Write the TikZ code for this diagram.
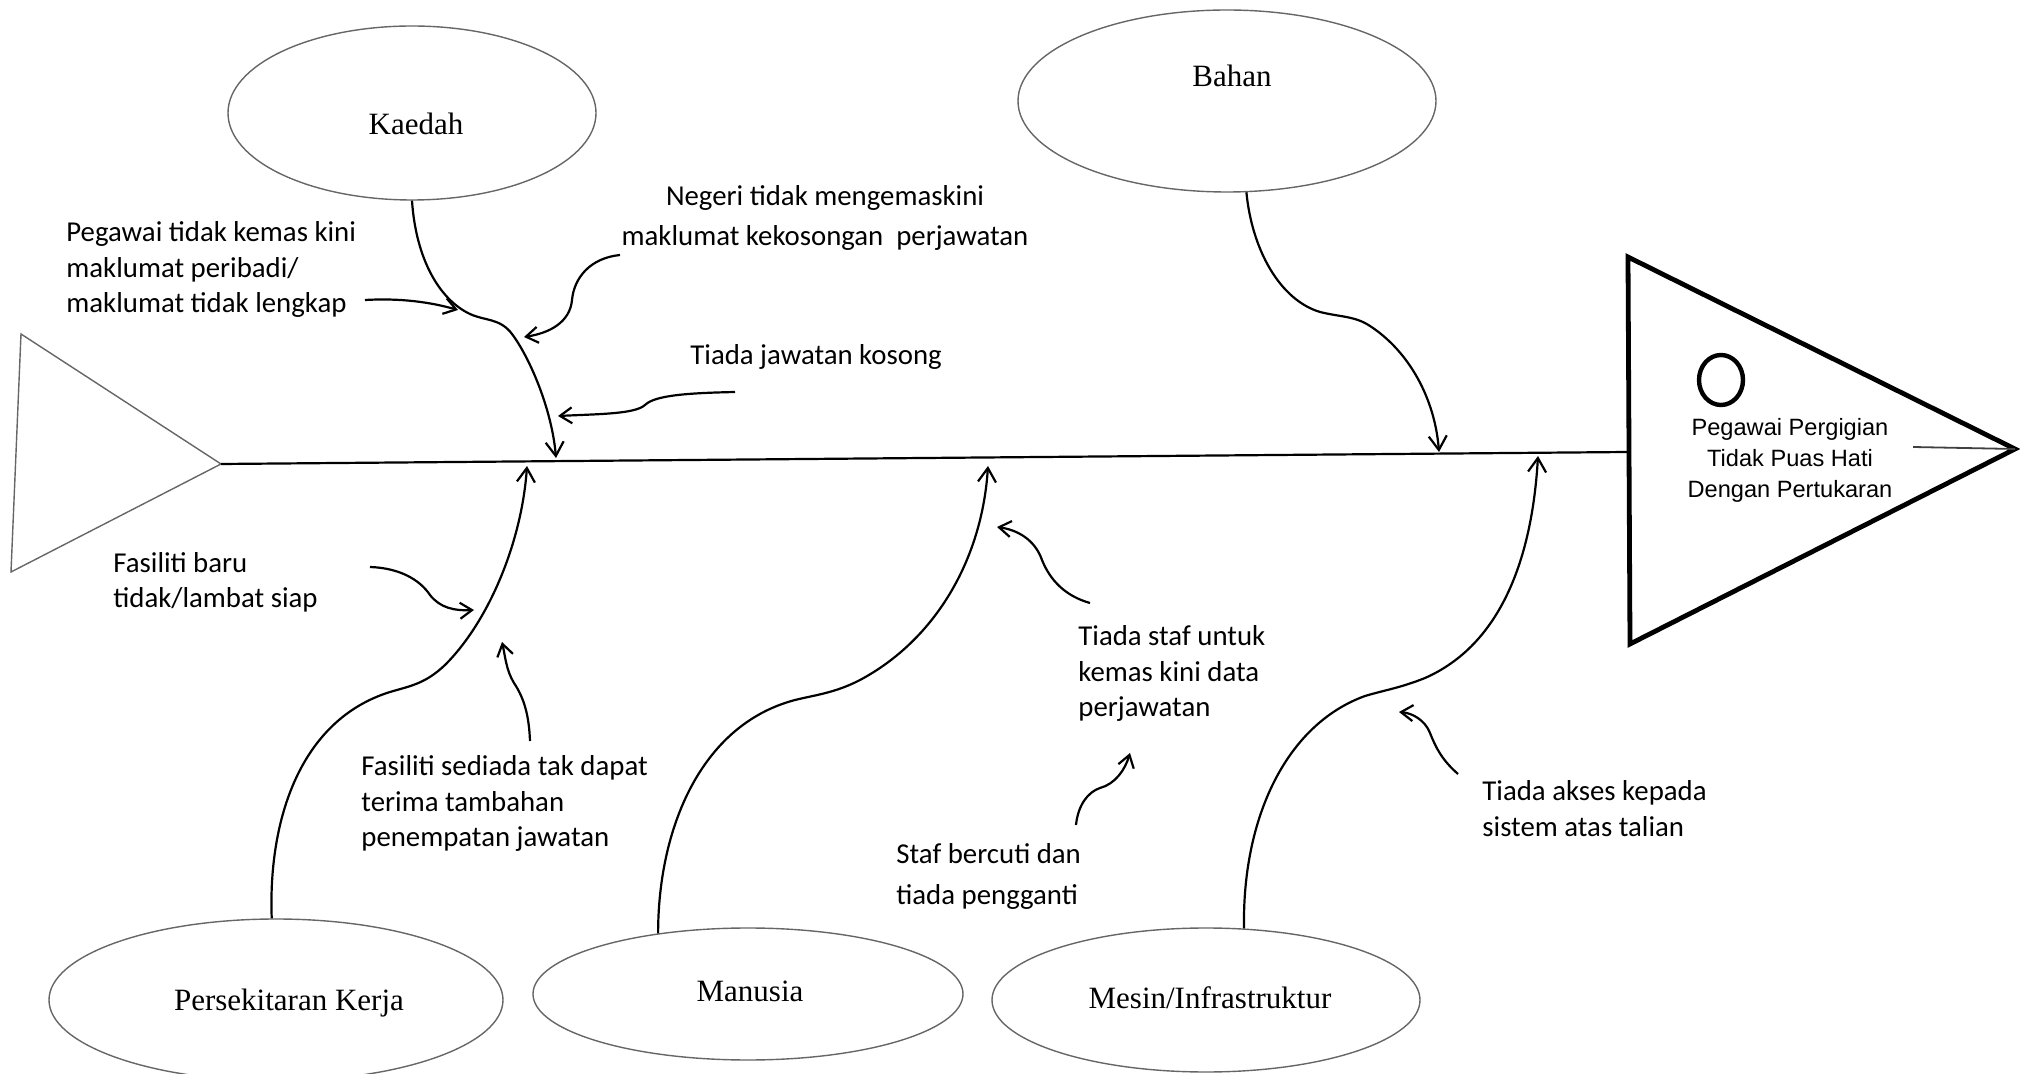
\documentclass[tikz,border=0pt]{standalone}
\usepackage{fontspec}
\setmainfont{Liberation Serif}
\newfontfamily\calib{Carlito}
\newfontfamily\arialf{Liberation Sans}
\usetikzlibrary{arrows.meta,shapes.geometric}
\begin{document}
\begin{tikzpicture}[x=0.5pt,y=-0.5pt,
  oval/.style={draw=black!60, line width=0.7pt, ellipse, inner sep=0pt},
  bone/.style={draw=black, line width=1.1pt, -{Straight Barb[length=7pt,width=9pt]}},
  cause/.style={draw=black, line width=1.1pt, -{Straight Barb[length=6pt,width=8pt]}},
  lbl/.style={font=\calib\fontsize{14.4}{17.8}\selectfont, align=left, anchor=base west, inner sep=0pt},
  cat/.style={font=\fontsize{15.5}{18}\selectfont, anchor=base, inner sep=0pt},
]
\useasboundingbox (0,0) rectangle (2020,1074);
\clip (0,0) rectangle (2020,1074);

% category ellipses
\node[oval, minimum width=184pt, minimum height=87pt] (kaedah) at (412,113) {};
\node[oval, minimum width=209pt, minimum height=91pt] (bahan) at (1227,101) {};
\node[oval, minimum width=227pt, minimum height=81pt] (persek) at (276,1000) {};
\node[oval, minimum width=215pt, minimum height=66pt] (manusia) at (748,994) {};
\node[oval, minimum width=214pt, minimum height=72pt] (mesin) at (1206,1000) {};

\node[cat] (tkaedah) at (416,135) {Kaedah};
\node[cat] (tbahan) at (1232,87) {Bahan};
\node[cat] (tpersek) at (289,1010) {Persekitaran Kerja};
\node[cat] (tmanusia) at (750,1001) {Manusia};
\node[cat] (tmesin) at (1210,1008) {Mesin/Infrastruktur};

% tail
\coordinate (tailtip) at (221,464);
\coordinate (tailtop) at (21,334);
\coordinate (tailbot) at (11,572);
\draw[black!60, line width=0.7pt] (tailtop) -- (tailtip) -- (tailbot) -- cycle;

% head
\coordinate (headbase) at (1628,452);
\coordinate (headtop) at (1628,257);
\coordinate (headtip) at (2015,449);
\coordinate (headbot) at (1630,644);
\coordinate (headline) at (1913,447);
\draw[line width=2.4pt, line join=miter] (headtop) -- (headtip) -- (headbot) -- cycle;
\draw[black!75, line width=0.9pt] (headline) -- (headtip);
\node[draw, ellipse, line width=2.2pt, minimum width=22pt, minimum height=25pt, inner sep=0pt] (circ) at (1721,380) {};
\node[font=\arialf\fontsize{11.8}{15.5}\selectfont, align=center, anchor=base, inner sep=0pt] (effect) at (1790,498) {Pegawai Pergigian\\Tidak Puas Hati\\Dengan Pertukaran};

% spine
\draw[line width=1.1pt] (tailtip) -- (headbase);

% bones
\coordinate (kT) at (556,458);
\coordinate (bT) at (1439,452);
\coordinate (pT) at (527,466);
\coordinate (mT) at (988,466);
\coordinate (iT) at (1538,456);
\draw[bone] (kaedah.south) .. controls (416,260) and (440,300) .. (470,314)
  .. controls (485,321) and (500,318) .. (512,334)
  .. controls (530,358) and (552,410) .. (kT);
\draw[bone] (bahan.-78) .. controls (1252,250) and (1280,300) .. (1320,312)
  .. controls (1340,317) and (1355,316) .. (1370,326)
  .. controls (1410,352) and (1435,400) .. (bT);
\draw[bone] (persek.93) .. controls (268,820) and (300,720) .. (390,692)
  .. controls (410,686) and (425,684) .. (445,665)
  .. controls (490,620) and (522,540) .. (pT);
\draw[bone] (manusia.146) .. controls (658,830) and (700,725) .. (795,700)
  .. controls (815,695) and (835,693) .. (860,680)
  .. controls (935,640) and (982,560) .. (mT);
\draw[bone] (mesin.62) .. controls (1242,820) and (1285,725) .. (1365,696)
  .. controls (1385,690) and (1400,688) .. (1425,678)
  .. controls (1500,645) and (1532,560) .. (iT);

% cause texts (anchor = baseline of last line)
\node[lbl] (t1) at (66,313) {Pegawai tidak kemas kini\\maklumat peribadi/\\maklumat tidak lengkap};
\node[lbl, align=center, anchor=base, font=\calib\fontsize{14.4}{20}\selectfont] (t2) at (825,246) {Negeri tidak mengemaskini\\maklumat kekosongan\ \ perjawatan};
\node[lbl] (t3) at (690,365) {Tiada jawatan kosong};
\node[lbl] (t4) at (113,608) {Fasiliti baru\\tidak/lambat siap};
\node[lbl] (t5) at (361,847) {Fasiliti sediada tak dapat\\terima tambahan\\penempatan jawatan};
\node[lbl, font=\calib\fontsize{14.4}{20.5}\selectfont] (t6) at (896,904) {Staf bercuti dan\\tiada pengganti};
\node[lbl] (t7) at (1078,717) {Tiada staf untuk\\kemas kini data\\perjawatan};
\node[lbl] (t8) at (1482,836) {Tiada akses kepada\\sistem atas talian};

% cause arrows
\coordinate (a1s) at (365,300); \coordinate (a1e) at (458,310);
\coordinate (a2s) at (620,255); \coordinate (a2e) at (524,337);
\coordinate (a3s) at (735,392); \coordinate (a3e) at (558,416);
\coordinate (a4s) at (370,567); \coordinate (a4e) at (474,610);
\coordinate (a5s) at (530,741); \coordinate (a5e) at (502,642);
\coordinate (a6s) at (1090,603); \coordinate (a6e) at (997,527);
\coordinate (a7s) at (1076,825); \coordinate (a7e) at (1130,753);
\coordinate (a8s) at (1458,774); \coordinate (a8e) at (1399,712);
\draw[cause] (a1s) .. controls (400,298) and (430,302) .. (a1e);
\draw[cause] (a2s) .. controls (590,258) and (574,278) .. (572,300) .. controls (570,322) and (550,333) .. (a2e);
\draw[cause] (a3s) .. controls (690,393) and (655,395) .. (645,405) .. controls (635,414) and (600,414) .. (a3e);
\draw[cause] (a4s) .. controls (400,568) and (420,580) .. (430,595) .. controls (440,608) and (455,611) .. (a4e);
\draw[cause] (a5s) .. controls (529,715) and (524,698) .. (514,683) .. controls (506,670) and (505,655) .. (a5e);
\draw[cause] (a6s) .. controls (1065,596) and (1050,580) .. (1042,560) .. controls (1035,540) and (1018,530) .. (a6e);
\draw[cause] (a7s) .. controls (1078,805) and (1088,792) .. (1100,788) .. controls (1115,784) and (1125,770) .. (a7e);
\draw[cause] (a8s) .. controls (1442,760) and (1436,748) .. (1430,733) .. controls (1425,720) and (1412,713) .. (a8e);
\end{tikzpicture}
\end{document}
